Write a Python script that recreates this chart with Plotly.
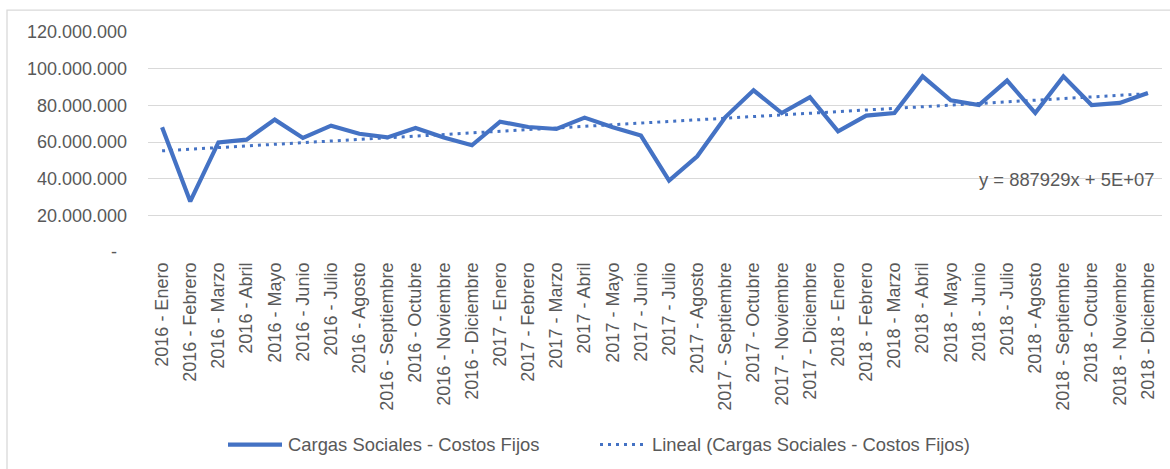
import numpy as np
import plotly.graph_objects as go

# ---- data ----
years = ["2016", "2017", "2018"]
months = ["Enero", "Febrero", "Marzo", "Abril", "Mayo", "Junio", "Julio",
          "Agosto", "Septiembre", "Octubre", "Noviembre", "Diciembre"]
categories = [f"{y} - {m}" for y in years for m in months]

values_2016 = [68.0e6, 27.6e6, 59.8e6, 61.3e6, 72.2e6, 62.2e6, 68.9e6, 64.5e6, 62.5e6, 67.6e6, 62.5e6, 58.2e6]
values_2017 = [71.1e6, 68.2e6, 67.1e6, 73.3e6, 68.0e6, 63.5e6, 38.9e6, 52.2e6, 73.6e6, 88.2e6, 75.8e6, 84.5e6]
values_2018 = [65.8e6, 74.4e6, 75.8e6, 95.8e6, 82.7e6, 80.2e6, 93.5e6, 75.8e6, 95.8e6, 80.2e6, 81.3e6, 86.7e6]
values = values_2016 + values_2017 + values_2018

y_tickvals = [0, 20e6, 40e6, 60e6, 80e6, 100e6, 120e6]
y_ticktext = ["-\u00a0\u00a0", "20.000.000", "40.000.000", "60.000.000",
              "80.000.000", "100.000.000", "120.000.000"]

series_name = "Cargas Sociales - Costos Fijos"
trend_name = "Lineal (Cargas Sociales - Costos Fijos)"
trend_label = "y = 887929x + 5E+07"

# linear trendline (least squares on the series, x = 1..n)
xs = np.arange(1, len(values) + 1)
slope, intercept = np.polyfit(xs, values, 1)
trend = slope * xs + intercept

BLUE = "#4472C4"
TEXT = "#595959"
GRID = "#D9D9D9"
FONT = "Arial, Liberation Sans, sans-serif"

# pixel -> paper helpers (plot area: x 148..1162, y 32..252.5)
L, W = 148.0, 1014.0
B, H = 252.5, 220.5
def px(x):
    return (x - L) / W
def py(y):
    return (B - y) / H

fig = go.Figure()
fig.add_trace(go.Scatter(
    x=categories, y=values, mode="lines", name=series_name,
    line=dict(color=BLUE, width=4.2), showlegend=False,
))
fig.add_trace(go.Scatter(
    x=categories, y=trend, mode="lines", name=trend_name,
    line=dict(color=BLUE, width=3, dash="3px,5px"), showlegend=False,
))

fig.add_annotation(
    text=trend_label, xref="paper", yref="y", x=px(1156), y=39.5e6,
    xanchor="right", yanchor="middle", showarrow=False,
    font=dict(family=FONT, size=18.4, color=TEXT),
)

# legend drawn as shapes + text
legend_y = 445.5
fig.add_shape(type="line", xref="paper", yref="paper",
              x0=px(228), x1=px(282), y0=py(legend_y), y1=py(legend_y),
              line=dict(color=BLUE, width=4.2))
fig.add_shape(type="line", xref="paper", yref="paper",
              x0=px(600), x1=px(646), y0=py(legend_y), y1=py(legend_y),
              line=dict(color=BLUE, width=3, dash="3px,5px"))
fig.add_annotation(text=series_name, xref="paper", yref="paper",
                   x=px(286), y=py(legend_y), xanchor="left", yanchor="middle",
                   showarrow=False, font=dict(family=FONT, size=18.4, color=TEXT))
fig.add_annotation(text=trend_name, xref="paper", yref="paper",
                   x=px(650), y=py(legend_y), xanchor="left", yanchor="middle",
                   showarrow=False, font=dict(family=FONT, size=18.4, color=TEXT))

# chart area border (extends beyond right/bottom of the picture)
fig.add_shape(
    type="rect", xref="paper", yref="paper",
    x0=px(7), x1=px(1180), y0=py(480), y1=py(10),
    line=dict(color=GRID, width=1.3), fillcolor="rgba(0,0,0,0)", layer="below",
)

fig.update_layout(
    width=1170, height=469,
    margin=dict(l=148, r=8, t=32, b=216.5),
    paper_bgcolor="white", plot_bgcolor="white",
    font=dict(family=FONT, size=18, color=TEXT),
    showlegend=False,
    hovermode=False,
)
fig.update_xaxes(
    type="category", range=[-0.5, len(categories) - 0.5],
    tickangle=-90, showgrid=False, showline=False, zeroline=False, ticks="",
    tickfont=dict(family=FONT, size=18, color=TEXT), ticklabelstandoff=6,
)
fig.update_yaxes(
    range=[0, 120e6], tickvals=y_tickvals, ticktext=y_ticktext,
    showgrid=True, gridcolor=GRID, gridwidth=1.3, zeroline=False, showline=False,
    ticks="", tickfont=dict(family=FONT, size=18, color=TEXT), ticklabelstandoff=20,
)

fig.write_html("out.html")
